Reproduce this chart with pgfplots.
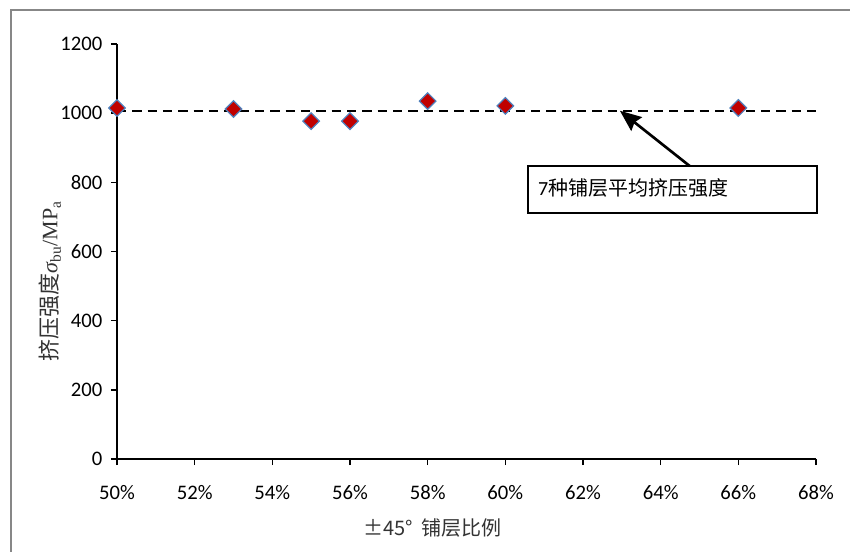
\documentclass[border=0pt]{standalone}
\usepackage{pgfplots}
\pgfplotsset{compat=1.18}
\usetikzlibrary{arrows.meta}
\usepackage{fontspec}
\setmainfont{Carlito}
\newfontfamily\cjk{Noto Sans CJK SC}
\newfontfamily\tnr{Liberation Serif}
\definecolor{mred}{HTML}{C00000}
\definecolor{medge}{HTML}{4F81BD}
\definecolor{frame}{HTML}{878787}
\begin{document}
\begin{tikzpicture}
\useasboundingbox (-87.75pt,-69pt) rectangle (549.75pt,344.25pt);
\draw[frame, line width=1.6pt] (-79.5pt,-70pt) -- (-79.5pt,336.75pt) -- (551pt,336.75pt);
\begin{axis}[
  at={(0,0)}, anchor=south west,
  scale only axis, width=524.25pt, height=311.25pt,
  xmin=50, xmax=68, ymin=0, ymax=1200,
  xtick={50,52,...,68}, ytick={0,200,...,1200},
  xticklabel={\pgfmathprintnumber{\tick}\%},
  /pgf/number format/assume math mode=true,
  /pgf/number format/1000 sep={},
  axis x line*=bottom, axis y line*=left,
  axis line style={line width=1.5pt, black},
  tick align=outside, major tick length=4.5pt,
  tick style={line width=1.2pt, black},
  ticklabel style={font=\fontsize{15.5}{17}\selectfont},
  yticklabel style={xshift=-3pt},
  xticklabel style={yshift=-12pt},
  xlabel={{\cjk ±45°\hspace{0.4em}铺层比例}},
  ylabel={{\cjk 挤压强度}{\tnr\itshape σ}{\tnr\textsubscript{bu}/MP\textsubscript{a}}},
  label style={color=black!80},
  xlabel style={font=\fontsize{15}{17}\selectfont, at={(axis description cs:0.451,-0.166)}, anchor=center},
  ylabel style={font=\fontsize{16.5}{18}\selectfont, at={(axis description cs:-0.096,0.429)}, anchor=center},
  clip=false,
]
\addplot[black, line width=1.5pt, dash pattern=on 7pt off 4.5pt] coordinates {(50,1007) (68,1007)};
\addplot[only marks, mark=square*, mark size=4.4pt, mark options={rotate=45, fill=mred, draw=medge, line width=0.9pt}]
  coordinates {(50,1015) (53,1012) (55,977) (56,977) (58,1035) (60,1021) (66,1015)};
\draw[line width=1.5pt, fill=white] (axis cs:60.58,711) rectangle (axis cs:68.02,847);
\node[anchor=west, inner sep=0pt, font=\fontsize{15}{17}\selectfont] at (axis cs:60.84,784) {7{\cjk 种铺层平均挤压强度}};
\draw[line width=2pt, -{Stealth[length=16pt,width=13pt,inset=2pt]}] (axis cs:64.75,847) -- (axis cs:62.95,1007);
\end{axis}
\end{tikzpicture}
\end{document}
